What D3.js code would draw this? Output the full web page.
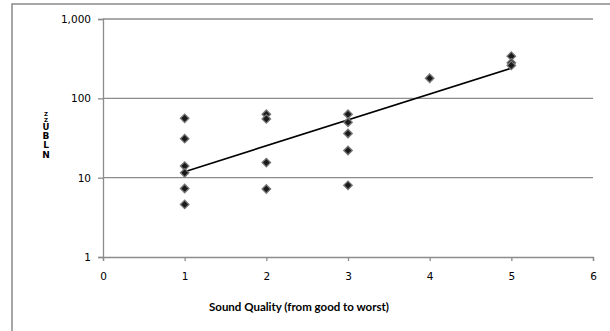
<!DOCTYPE html>
<html><head><meta charset="utf-8">
<script src="https://cdn.jsdelivr.net/npm/d3@7"></script>
<style>body{margin:0;background:#fff}svg{display:block}</style>
</head><body>
<script>
const xs = [1,1,1,1,1,1, 2,2,2,2, 3,3,3,3,3, 4, 5,5,5];
const ys = [56,31,14,11.5,7.3,4.6, 63,55,15.5,7.2, 63,50,36,22,8, 179, 340,280,260];
const trendX = [1,5];
const trendY = [11.9,240];
const xTicks = [0,1,2,3,4,5,6];
const yTicks = [1,10,100,1000];
const yLabelGlyphs = ["Z","Z","U","B","L","N"];
const xTitle = "Sound Quality (from good to worst)";

const W=610,H=331;
const svg=d3.select("body").append("svg").attr("width",W).attr("height",H);
// outer frame (extends past right/bottom edges)
svg.append("path").attr("d",`M12,${H+5}V4H${W+5}`)
  .attr("fill","none").attr("stroke","#8a8a8a").attr("stroke-width",1.5);

const x=d3.scaleLinear().domain([0,6]).range([103,593]);
const y=d3.scaleLog().domain([1,1000]).range([257,19]);

// gridlines
svg.append("g").selectAll("line").data(yTicks.slice(1)).join("line")
  .attr("x1",x(0)).attr("x2",x(6)).attr("y1",d=>y(d)).attr("y2",d=>y(d))
  .attr("stroke","#8c8c8c").attr("stroke-width",1.3);

const gx=svg.append("g").attr("transform",`translate(0,${y(1)})`)
  .call(d3.axisBottom(x).tickValues(xTicks).tickSize(4).tickPadding(12).tickFormat(d3.format("d")));
const gy=svg.append("g").attr("transform",`translate(${x(0)},0)`)
  .call(d3.axisLeft(y).tickValues(yTicks).tickSize(5).tickPadding(7).tickFormat(d3.format(",")));
[gx,gy].forEach(g=>{
  g.select(".domain").attr("stroke","#8c8c8c").attr("stroke-width",1.3);
  g.selectAll(".tick line").attr("stroke","#8c8c8c").attr("stroke-width",1.3);
  g.selectAll("text").attr("fill","#000").style("font-family","DejaVu Sans").style("font-size","10.5px");
});

// trendline
svg.append("path").datum(trendX.map((d,i)=>[d,trendY[i]]))
  .attr("d",d3.line().x(d=>x(d[0])).y(d=>y(d[1])))
  .attr("fill","none").attr("stroke","#000").attr("stroke-width",1.6);

// points (square rotated 45deg = diamond)
const sym=d3.symbol().type(d3.symbolSquare).size(36);
svg.append("g").selectAll("path").data(xs.map((d,i)=>[d,ys[i]])).join("path")
  .attr("d",sym).attr("transform",d=>`translate(${x(d[0])},${y(d[1])}) rotate(45)`)
  .attr("fill","#1a1a1a").attr("stroke","#777").attr("stroke-width",1.3);

// y label glyphs stacked
const yl=svg.append("text").attr("x",46).attr("text-anchor","middle")
  .style("font-family","DejaVu Sans").style("font-weight","bold");
const gy0=[116,122,130,139,148,158];
const gfs=[5.5,5.5,8.5,9,9,9];
yLabelGlyphs.forEach((g,i)=>yl.append("tspan").attr("x",46).attr("y",gy0[i]).style("font-size",gfs[i]+"px").text(g));

svg.append("text").attr("x",299).attr("y",311).attr("text-anchor","middle")
  .style("font-family","Lato").style("font-weight","bold").style("font-size","11.5px").text(xTitle);
</script>
</body></html>
